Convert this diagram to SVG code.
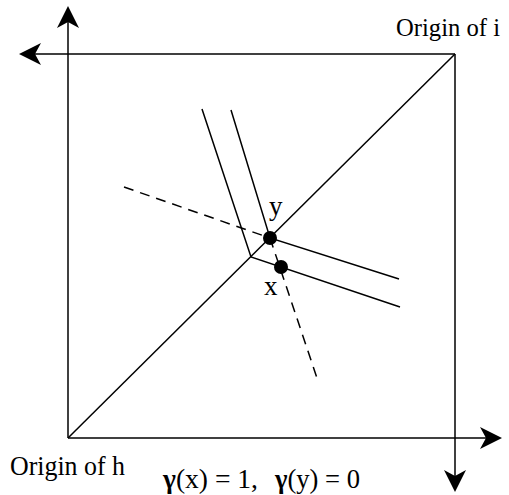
<svg xmlns="http://www.w3.org/2000/svg" width="509" height="495" viewBox="0 0 509 495">
<style>
.ln{stroke:#000;stroke-width:1.5;fill:none}
.ds{stroke:#000;stroke-width:1.5;fill:none;stroke-dasharray:10,7}
.ah{fill:#000;stroke:none}
.dot{fill:#000}
text{font-family:Liberation Serif,DejaVu Serif,Times New Roman,serif;fill:#000}
</style>
<g id="connectors">
<line class="ln" x1="68" y1="438" x2="68" y2="12"/>
<line class="ln" x1="455" y1="54" x2="24" y2="54"/>
<line class="ln" x1="68" y1="438" x2="496" y2="438"/>
<line class="ln" x1="455" y1="54" x2="455" y2="486"/>
<line class="ln" x1="68" y1="438" x2="455" y2="54"/>
<polyline class="ln" points="202,109 251,257 400,307"/>
<polyline class="ln" points="231,110 270,238 399,279"/>
<line class="ds" x1="124" y1="187" x2="270" y2="238"/>
<line class="ds" x1="270" y1="238" x2="318" y2="381"/>
<path class="ah" d="M68,6 L79,28 L68,22 L57,28 Z"/>
<path class="ah" d="M19,54 L41,43 L35,54 L41,65 Z"/>
<path class="ah" d="M502,438 L480,427 L486,438 L480,449 Z"/>
<path class="ah" d="M455,492 L444,470 L455,476 L466,470 Z"/>
</g>
<g id="node-y">
<circle class="dot" cx="270" cy="238" r="7"/>
<text x="269" y="215" font-size="27">y</text>
</g>
<g id="node-x">
<circle class="dot" cx="281" cy="267" r="7"/>
<text x="264" y="295" font-size="27">x</text>
</g>
<g id="label-origin-i">
<text x="396" y="36" font-size="26" textLength="104" lengthAdjust="spacingAndGlyphs">Origin of i</text>
</g>
<g id="label-origin-h">
<text x="10" y="475" font-size="28" textLength="115" lengthAdjust="spacingAndGlyphs">Origin of h</text>
</g>
<g id="label-gamma" font-size="27">
<text y="488" textLength="95" lengthAdjust="spacingAndGlyphs"><tspan x="163" font-weight="bold">γ</tspan>(x) = 1,</text>
<text y="488" textLength="85" lengthAdjust="spacingAndGlyphs"><tspan x="275" font-weight="bold">γ</tspan>(y) = 0</text>
</g>
</svg>
